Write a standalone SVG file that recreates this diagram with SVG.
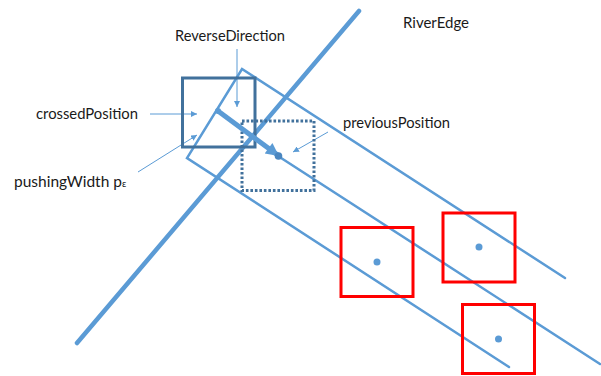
<svg xmlns="http://www.w3.org/2000/svg" width="601" height="376" viewBox="0 0 601 376">
<defs>
<style>
.lbl{font-family:Lato,"Liberation Sans",Arial,sans-serif;font-size:15.5px;fill:#1a1a1a}
.edge{stroke:#5b9bd5;fill:none;stroke-linecap:round;stroke-linejoin:miter}
.ptr{stroke:#5b9bd5;stroke-width:1;fill:none}
.red{fill:none;stroke:#ff0000;stroke-width:3}
.dot{fill:#5b9bd5}
</style>
<marker id="small" viewBox="0 0 10 10" refX="10" refY="5" markerWidth="6" markerHeight="6" markerUnits="userSpaceOnUse" orient="auto">
<path d="M0,0 L10,5 L0,10 Z" fill="#5b9bd5"/>
</marker>
<marker id="big" viewBox="0 0 10 10" refX="10" refY="5" markerWidth="15" markerHeight="13" markerUnits="userSpaceOnUse" orient="auto">
<path d="M0,0 L10,5 L0,10 Z" fill="#5b9bd5"/>
</marker>
</defs>
<rect width="601" height="376" fill="#fff"/>

<g id="connectors">
<line class="edge" x1="77" y1="343" x2="359" y2="11" stroke-width="4.5"/>
<polyline class="edge" points="565,278 242,69 187,158 509,367" stroke-width="2.5"/>
<line class="edge" x1="278" y1="156" x2="600" y2="364" stroke-width="2.5"/>
<line class="ptr" x1="237" y1="49" x2="237" y2="107" marker-end="url(#small)"/>
<line class="ptr" x1="150" y1="114" x2="197" y2="114" marker-end="url(#small)"/>
<line class="ptr" x1="138" y1="172" x2="197" y2="135" marker-end="url(#small)"/>
<line class="ptr" x1="328" y1="132" x2="293" y2="152" marker-end="url(#small)"/>
</g>

<g id="crossedPositionBox">
<rect x="182.5" y="78" width="72.5" height="69" fill="none" stroke="#41719c" stroke-width="3"/>
</g>
<g id="previousPositionBox">
<rect x="242" y="121" width="72" height="69.5" fill="none" stroke="#41719c" stroke-width="3" stroke-dasharray="2.6 1.9"/>
</g>
<g id="reverseArrow">
<circle cx="218" cy="111" r="3" class="dot"/>
<line x1="218" y1="111" x2="279" y2="156" stroke="#5b9bd5" stroke-width="5" marker-end="url(#big)"/>
<circle cx="278.5" cy="156" r="3.8" fill="#4a86c0"/>
</g>

<g id="red1"><rect class="red" x="341" y="227.5" width="72" height="69"/><circle class="dot" cx="377" cy="262" r="3.5"/></g>
<g id="red2"><rect class="red" x="443" y="213" width="72" height="69"/><circle class="dot" cx="479" cy="247" r="3.5"/></g>
<g id="red3"><rect class="red" x="462.5" y="304.5" width="72" height="69"/><circle class="dot" cx="498.5" cy="339" r="3.5"/></g>

<g id="labels">
<text class="lbl" x="175" y="41" textLength="110" lengthAdjust="spacingAndGlyphs">ReverseDirection</text>
<text class="lbl" x="403" y="28" textLength="66" lengthAdjust="spacingAndGlyphs">RiverEdge</text>
<text class="lbl" x="36" y="119" textLength="102" lengthAdjust="spacingAndGlyphs">crossedPosition</text>
<text class="lbl" x="343" y="128" textLength="107" lengthAdjust="spacingAndGlyphs">previousPosition</text>
<text class="lbl" x="14" y="187">pushingWidth p<tspan font-size="9.5px">ε</tspan></text>
</g>
</svg>
